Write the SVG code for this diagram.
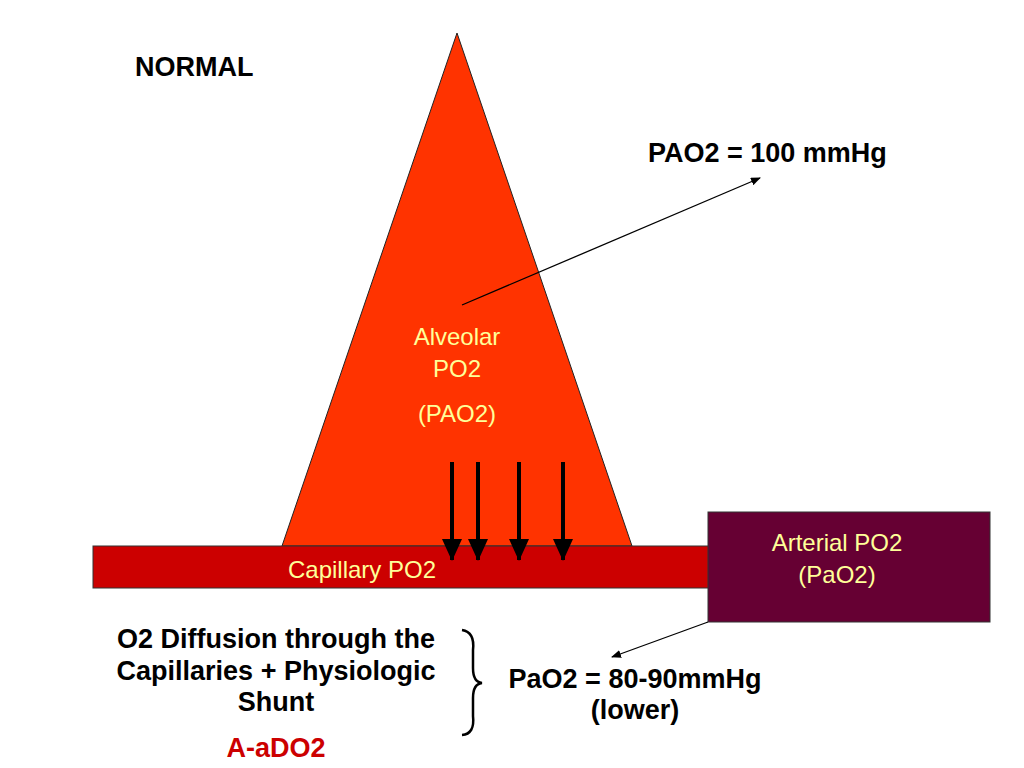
<svg xmlns="http://www.w3.org/2000/svg" width="1024" height="768" viewBox="0 0 1024 768">
<style>
text{font-family:"Liberation Sans",Arial,sans-serif;}
.b{font-weight:bold;font-size:27px;fill:#000;}
.y{font-size:24px;fill:#FFFF99;}
</style>
<defs>
<marker id="ah" markerWidth="10" markerHeight="8" refX="9" refY="4" orient="auto" markerUnits="userSpaceOnUse"><path d="M0,0L10,4L0,8z" fill="#000"/></marker>
<marker id="big" markerWidth="20" markerHeight="22" refX="10" refY="21" orient="0" markerUnits="userSpaceOnUse"><path d="M0,0L20,0L10,22z" fill="#000"/></marker>
</defs>
<rect width="1024" height="768" fill="#fff"/>
<g id="alveolus"><path d="M457,33L632,546L282,546z" fill="#FF3300" stroke="#222" stroke-width="1"/>
<text class="y" text-anchor="middle" x="457" y="345">Alveolar</text>
<text class="y" text-anchor="middle" x="457" y="377">PO2</text>
<text class="y" text-anchor="middle" x="457" y="422">(PAO2)</text></g>
<g id="capillary"><rect x="93" y="546" width="617" height="42" fill="#CC0000" stroke="#333"/>
<text class="y" text-anchor="middle" x="362" y="578">Capillary PO2</text></g>
<g id="arterial"><rect x="708" y="512" width="282" height="110" fill="#660033" stroke="#333"/>
<text class="y" text-anchor="middle" x="837" y="551">Arterial PO2</text>
<text class="y" text-anchor="middle" x="837" y="583">(PaO2)</text></g>
<g id="connectors" stroke="#000" fill="none">
<g stroke-width="4" marker-end="url(#big)">
<line x1="452" y1="462" x2="452" y2="560"/><line x1="478" y1="462" x2="478" y2="560"/>
<line x1="519" y1="462" x2="519" y2="560"/><line x1="563" y1="462" x2="563" y2="560"/></g>
<line x1="462" y1="305" x2="760" y2="178" stroke-width="1.3" marker-end="url(#ah)"/>
<line x1="708" y1="622" x2="612" y2="657" stroke-width="1.3" marker-end="url(#ah)"/>
<path d="M462,630Q475,632 473,650L473,668Q473,682 482,683Q473,684 473,698L473,716Q475,734 462,735" stroke-width="2.5"/>
</g>
<g id="labels">
<text class="b" x="135" y="76">NORMAL</text>
<text class="b" x="648" y="162">PAO2 = 100 mmHg</text>
<text class="b" text-anchor="middle" x="276" y="648">O2 Diffusion through the</text>
<text class="b" text-anchor="middle" x="276" y="680">Capillaries + Physiologic</text>
<text class="b" text-anchor="middle" x="276" y="711">Shunt</text>
<text class="b" text-anchor="middle" x="276" y="757" style="fill:#CC0000">A-aDO2</text>
<text class="b" text-anchor="middle" x="635" y="688">PaO2 = 80-90mmHg</text>
<text class="b" text-anchor="middle" x="635" y="719">(lower)</text>
</g>
</svg>
